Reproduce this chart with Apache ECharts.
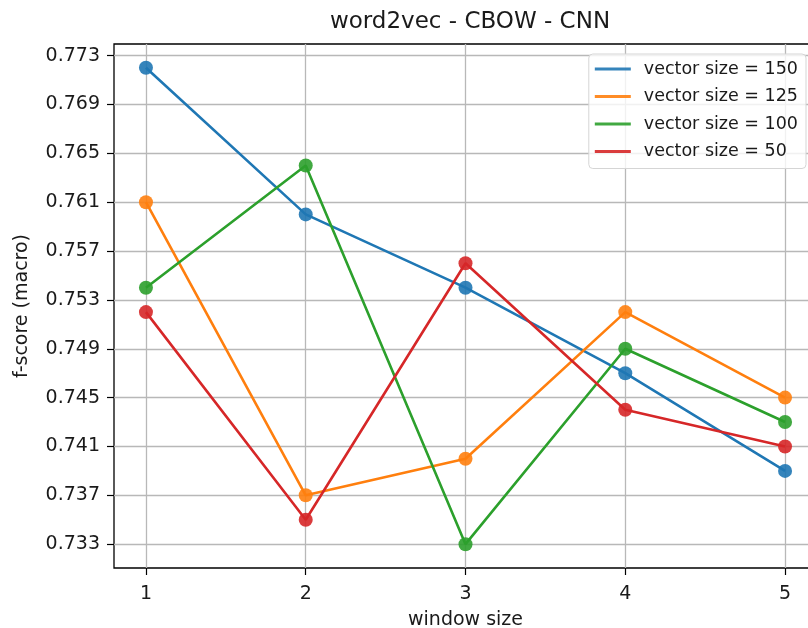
<!DOCTYPE html>
<html>
<head>
<meta charset="utf-8">
<script src="https://cdn.jsdelivr.net/npm/echarts@6/dist/echarts.min.js"></script>
<style>
  html, body { margin: 0; padding: 0; background: #fff; }
  #chart { width: 808px; height: 628px; }
</style>
</head>
<body>
<div id="chart"></div>
<script>
// window sizes on the x axis
const windowSizes = [1, 2, 3, 4, 5];
// macro f-score per vector size
const vec150 = [0.772, 0.760, 0.754, 0.747, 0.739];
const vec125 = [0.761, 0.737, 0.740, 0.752, 0.745];
const vec100 = [0.754, 0.764, 0.733, 0.749, 0.743];
const vec50  = [0.752, 0.735, 0.756, 0.744, 0.741];
const seriesNames = ['vector size = 150', 'vector size = 125', 'vector size = 100', 'vector size = 50'];
const yTicks = [0.733, 0.737, 0.741, 0.745, 0.749, 0.753, 0.757, 0.761, 0.765, 0.769, 0.773];

const colors = ['#1f77b4', '#ff7f0e', '#2ca02c', '#d62728'];
const font = 'DejaVu Sans';
const textColor = '#1a1a1a';

function pairs(vals) { return windowSizes.map((w, i) => [w, vals[i]]); }

const allSeries = [vec150, vec125, vec100, vec50].map((vals, i) => ({
  name: seriesNames[i],
  type: 'line',
  data: pairs(vals),
  symbol: 'circle',
  symbolSize: 14,
  color: colors[i],
  itemStyle: { opacity: 0.9 },
  lineStyle: { width: 2.6 },
  emphasis: { disabled: true },
  animation: false
}));

const chart = echarts.init(document.getElementById('chart'));
chart.setOption({
  animation: false,
  title: {
    text: 'word2vec - CBOW - CNN',
    left: 465, top: 6, textAlign: 'center',
    textStyle: { fontFamily: font, fontSize: 23, fontWeight: 'normal', color: textColor }
  },
  // the plot frame runs past the right edge of the canvas
  grid: {
    left: 114, top: 44, width: 703, height: 524,
    outerBoundsMode: 'none', containLabel: false,
    show: true, borderColor: '#000', borderWidth: 1.3, backgroundColor: 'transparent'
  },
  legend: {
    orient: 'vertical',
    right: 2, top: 54,
    padding: [6, 8, 8, 6],
    backgroundColor: 'rgba(255,255,255,0.8)',
    borderColor: '#d5d5d5', borderWidth: 1, borderRadius: 4,
    itemWidth: 36, itemHeight: 3, itemGap: 9.5,
    icon: 'rect',
    textStyle: { fontFamily: font, fontSize: 17.5, color: textColor, padding: [0, 0, 0, 8] },
    data: seriesNames
  },
  xAxis: {
    type: 'value',
    min: 0.8, max: 5.2,
    name: 'window size', nameLocation: 'middle', nameGap: 43,
    nameTextStyle: { fontFamily: font, fontSize: 19, color: textColor },
    axisLine: { show: false },
    axisTick: { show: true, length: 7, lineStyle: { color: '#000', width: 1.2 }, customValues: windowSizes },
    axisLabel: { fontFamily: font, fontSize: 19, color: textColor, margin: 17, customValues: windowSizes },
    splitLine: { show: true, lineStyle: { color: '#b8b8b8', width: 1.3 } }
  },
  yAxis: {
    type: 'value',
    min: 0.73105, max: 0.77395,
    name: 'f-score (macro)', nameLocation: 'middle', nameGap: 82,
    nameTextStyle: { fontFamily: font, fontSize: 19, color: textColor },
    axisLine: { show: false },
    axisTick: { show: true, length: 7, lineStyle: { color: '#000', width: 1.2 }, customValues: yTicks },
    axisLabel: {
      fontFamily: font, fontSize: 19, color: textColor, margin: 14,
      customValues: yTicks,
      formatter: v => v.toFixed(3)
    },
    splitLine: { show: true, lineStyle: { color: '#b8b8b8', width: 1.3 } }
  },
  series: allSeries
});
</script>
</body>
</html>
